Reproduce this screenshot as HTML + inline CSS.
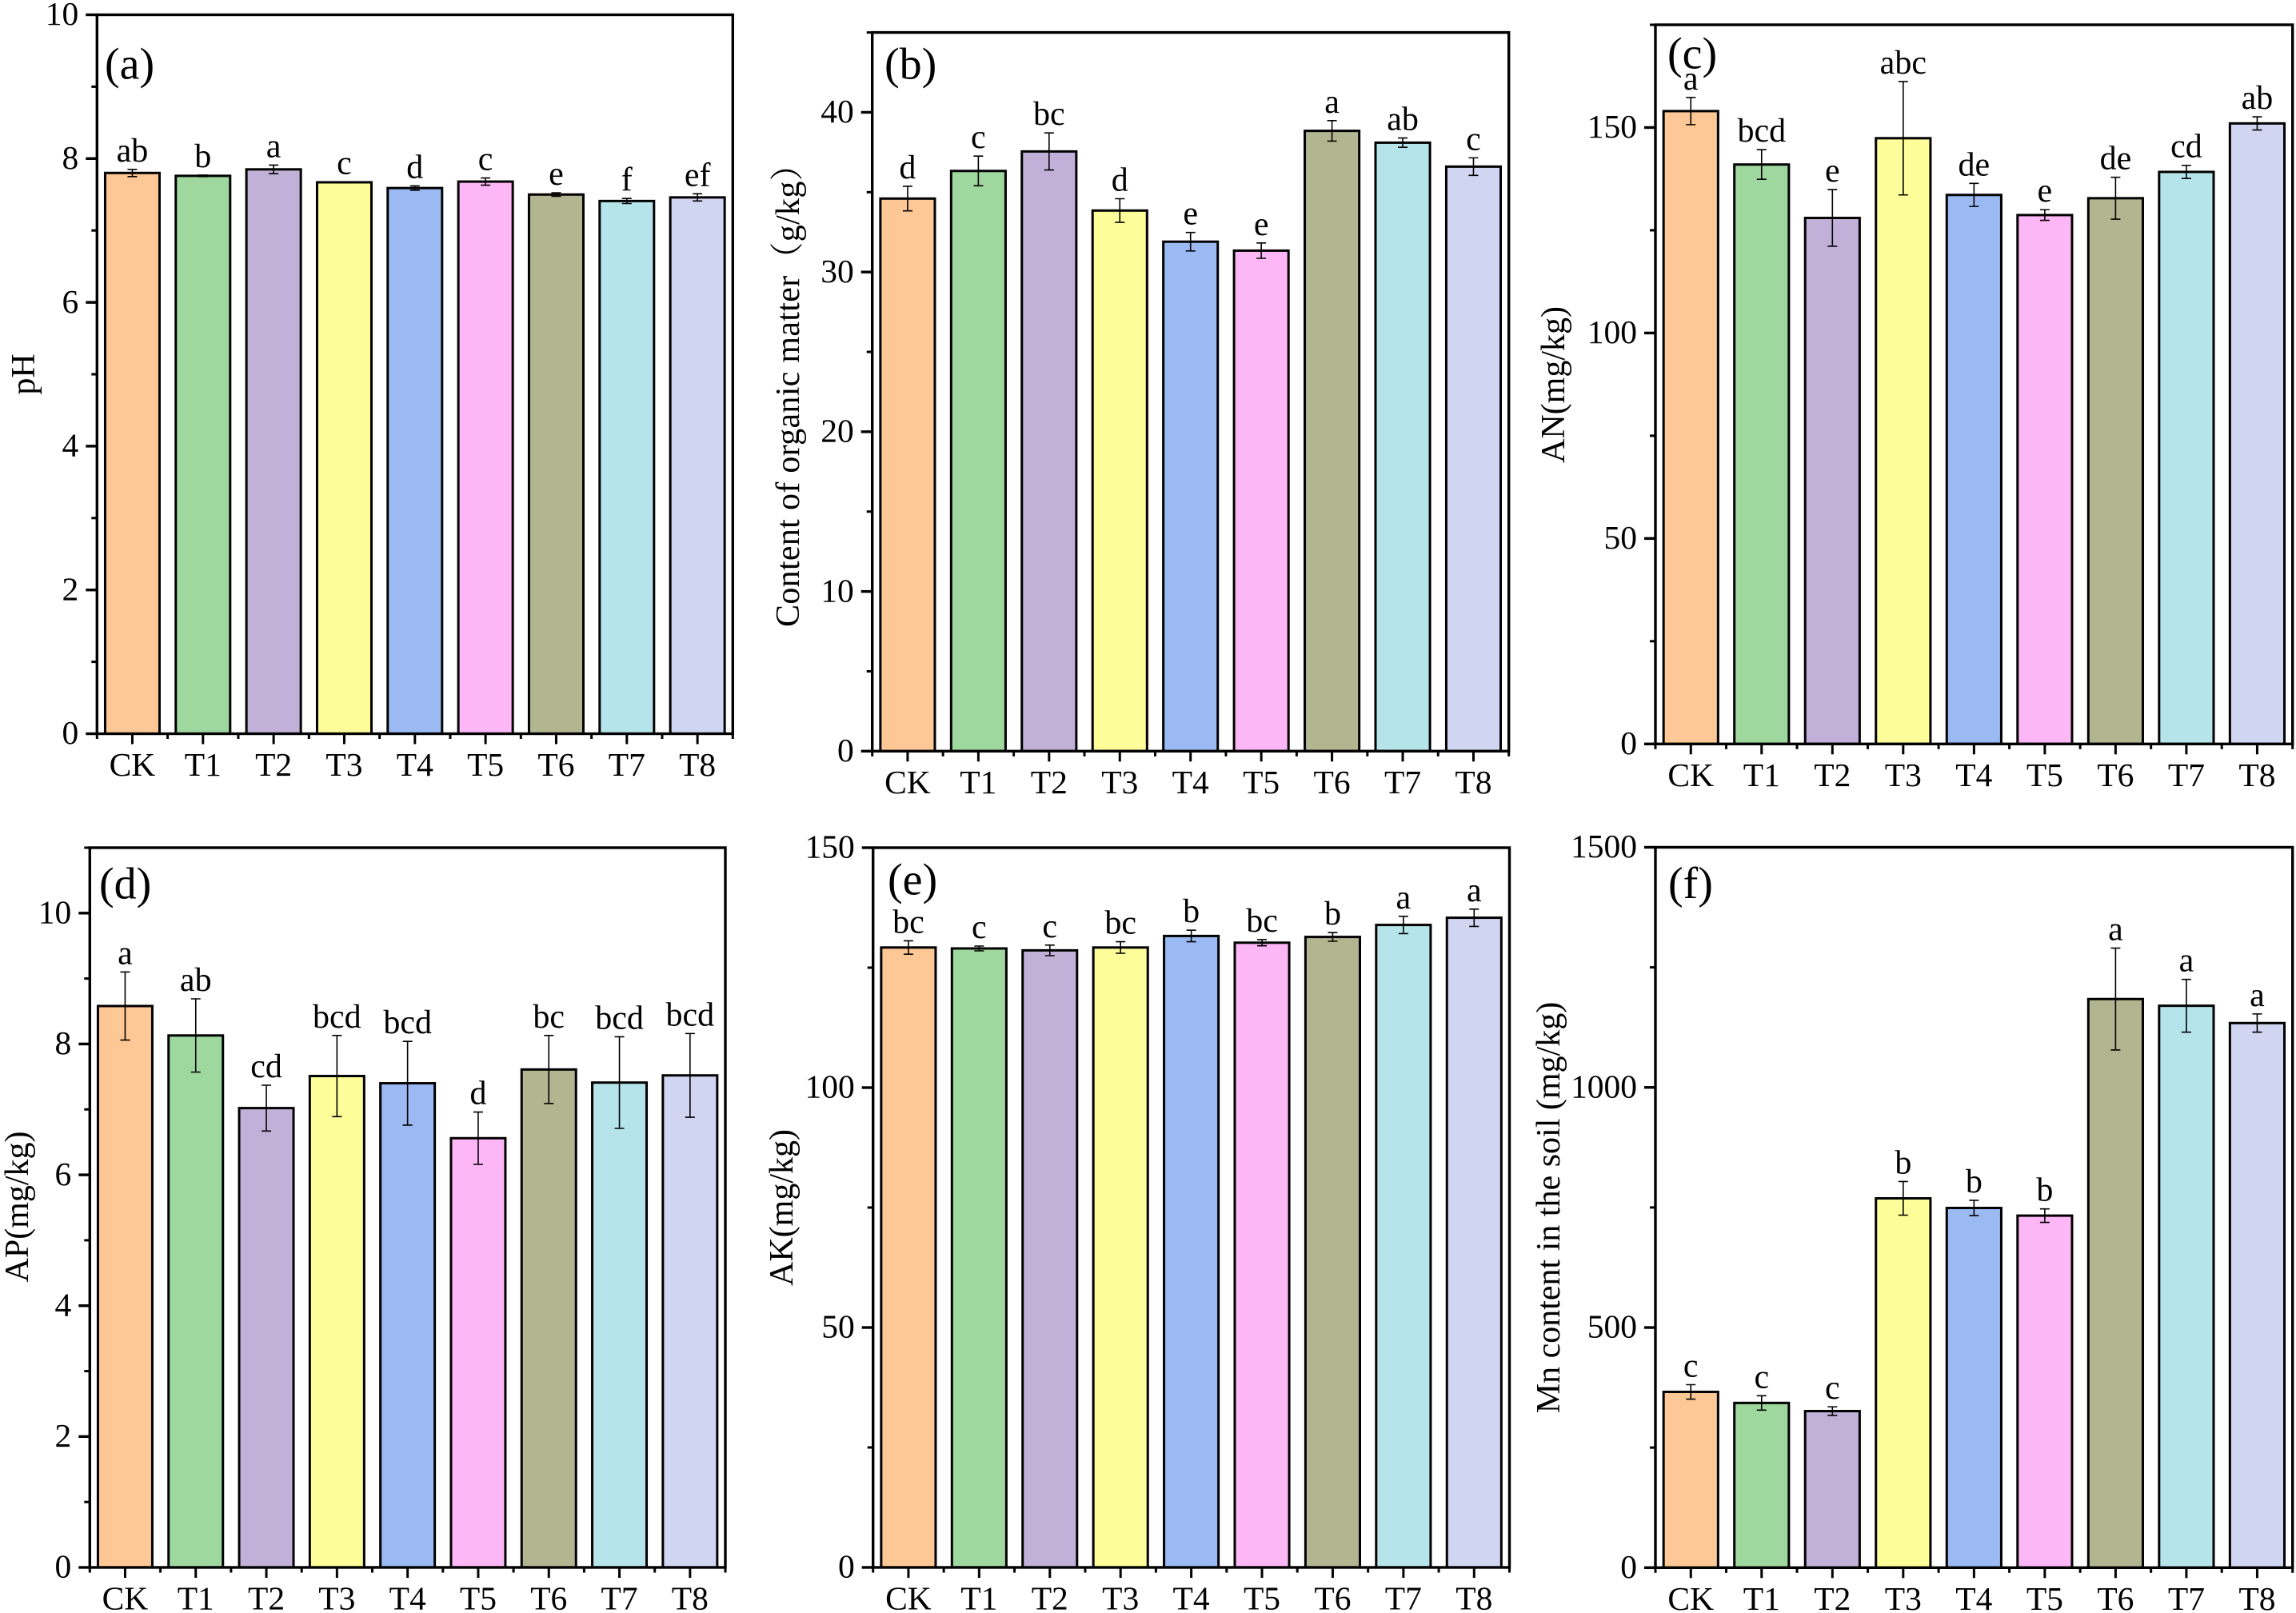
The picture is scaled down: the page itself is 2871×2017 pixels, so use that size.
<!DOCTYPE html>
<html lang="en">
<head>
<meta charset="utf-8">
<title>Soil properties by treatment</title>
<style>
  html, body { margin: 0; padding: 0; background: #fff; }
  svg { display: block; }
  text { font-family: "Liberation Serif", "Noto Serif CJK SC", serif; fill: #000; }
</style>
</head>
<body>
<svg id="figure" xmlns="http://www.w3.org/2000/svg" width="2871" height="2017" viewBox="0 0 2871 2017"></svg>
<script>
const categories = ['CK', 'T1', 'T2', 'T3', 'T4', 'T5', 'T6', 'T7', 'T8'];
const barColors = ['#FDC896', '#9FD89F', '#C1B1D8', '#FDFD99', '#9BBAF3', '#FDB6F6', '#B1B690', '#B5E5EA', '#D0D6F2'];

const phValues = [7.80, 7.76, 7.85, 7.67, 7.59, 7.68, 7.50, 7.41, 7.46];
const phErrors = [0.05, 0.01, 0.06, 0.005, 0.03, 0.05, 0.025, 0.035, 0.05];
const phLetters = ['ab', 'b', 'a', 'c', 'd', 'c', 'e', 'f', 'ef'];
const phTicks = [0, 2, 4, 6, 8, 10];

const organicValues = [34.6, 36.33, 37.55, 33.85, 31.9, 31.34, 38.84, 38.1, 36.6];
const organicErrors = [0.77, 0.93, 1.16, 0.74, 0.58, 0.48, 0.64, 0.29, 0.55];
const organicLetters = ['d', 'c', 'bc', 'd', 'e', 'e', 'a', 'ab', 'c'];
const organicTicks = [0, 10, 20, 30, 40];

const anValues = [154, 141, 128, 147.4, 133.6, 128.7, 132.8, 139.2, 151];
const anErrors = [3.3, 3.6, 6.9, 13.8, 2.8, 1.3, 5.1, 1.6, 1.6];
const anLetters = ['a', 'bcd', 'e', 'abc', 'de', 'e', 'de', 'cd', 'ab'];
const anTicks = [0, 50, 100, 150];

const apValues = [8.58, 8.13, 7.02, 7.51, 7.40, 6.56, 7.61, 7.41, 7.52];
const apErrors = [0.52, 0.56, 0.35, 0.62, 0.64, 0.40, 0.52, 0.70, 0.64];
const apLetters = ['a', 'ab', 'cd', 'bcd', 'bcd', 'd', 'bc', 'bcd', 'bcd'];
const apTicks = [0, 2, 4, 6, 8, 10];

const akValues = [129.2, 129, 128.6, 129.2, 131.6, 130.2, 131.4, 133.9, 135.4];
const akErrors = [1.4, 0.5, 1.1, 1.2, 1.2, 0.65, 0.9, 1.8, 1.8];
const akLetters = ['bc', 'c', 'c', 'bc', 'b', 'bc', 'b', 'a', 'a'];
const akTicks = [0, 50, 100, 150];

const mnValues = [366, 343, 326, 769, 749, 733, 1184, 1170, 1134];
const mnErrors = [15, 15, 9, 35, 16, 14, 106, 55, 19];
const mnLetters = ['c', 'c', 'c', 'b', 'b', 'b', 'a', 'a', 'a'];
const mnTicks = [0, 500, 1000, 1500];

const panels = [
  { key: 'a', tag: '(a)', title: 'pH', left: 121.3, right: 916.3, top: 18.5, bottom: 917.5, yMax: 10, minorStep: 1,
    values: phValues, errors: phErrors, letters: phLetters, ticks: phTicks, tagX: 131, tagY: 98.5, titleX: 43, titleY: 468, titleSpacing: 0 },
  { key: 'b', tag: '(b)', title: 'Content of organic matter（g/kg）', left: 1090.7, right: 1886.7, top: 40.6, bottom: 939.3, yMax: 45, minorStep: 5,
    values: organicValues, errors: organicErrors, letters: organicLetters, ticks: organicTicks, tagX: 1106, tagY: 98.5, titleX: 999, titleY: 484, titleSpacing: 0.3 },
  { key: 'c', tag: '(c)', title: 'AN(mg/kg)', left: 2070, right: 2866.7, top: 31, bottom: 930.3, yMax: 175, minorStep: 25,
    values: anValues, errors: anErrors, letters: anLetters, ticks: anTicks, tagX: 2085, tagY: 85.5, titleX: 1956, titleY: 481, titleSpacing: 0 },
  { key: 'd', tag: '(d)', title: 'AP(mg/kg)', left: 112.3, right: 907, top: 1060, bottom: 1960, yMax: 11, minorStep: 1,
    values: apValues, errors: apErrors, letters: apLetters, ticks: apTicks, tagX: 124, tagY: 1123.5, titleX: 35, titleY: 1509, titleSpacing: 0 },
  { key: 'e', tag: '(e)', title: 'AK(mg/kg)', left: 1091.7, right: 1887.5, top: 1060, bottom: 1960, yMax: 150, minorStep: 25,
    values: akValues, errors: akErrors, letters: akLetters, ticks: akTicks, tagX: 1110, tagY: 1118.5, titleX: 991, titleY: 1510, titleSpacing: 0 },
  { key: 'f', tag: '(f)', title: 'Mn content in the soil (mg/kg)', left: 2070, right: 2866.7, top: 1059.5, bottom: 1960.3, yMax: 1500, minorStep: 250,
    values: mnValues, errors: mnErrors, letters: mnLetters, ticks: mnTicks, tagX: 2086, tagY: 1123, titleX: 1950, titleY: 1510, titleSpacing: 0 }
];

const SVG_NS = 'http://www.w3.org/2000/svg';
const figure = document.getElementById('figure');

function make(parent, tag, attrs, content) {
  const el = document.createElementNS(SVG_NS, tag);
  for (const k in attrs) el.setAttribute(k, attrs[k]);
  if (content !== undefined) el.textContent = content;
  parent.appendChild(el);
  return el;
}

function drawPanel(p) {
  const group = make(figure, 'g', {});
  
  

  const slot = (p.right - p.left) / categories.length;
  const xAt = i => p.left + slot * (i + 0.5);
  const yAt = v => p.bottom - (v / p.yMax) * (p.bottom - p.top);
  const barW = slot * 0.77;

  categories.forEach((cat, i) => {
    const yTop = yAt(p.values[i]);
    const bar = make(group, 'rect', {
      x: xAt(i) - barW / 2, y: yTop, width: barW, height: p.bottom - yTop,
      fill: barColors[i], stroke: '#000', 'stroke-width': 3
    });
    
    

    const yHi = yAt(p.values[i] + p.errors[i]);
    const yLo = yAt(p.values[i] - p.errors[i]);
    const err = make(group, 'path', {
      d: 'M' + (xAt(i) - 6) + ' ' + yHi + 'H' + (xAt(i) + 6) +
         'M' + xAt(i) + ' ' + yHi + 'V' + yLo +
         'M' + (xAt(i) - 6) + ' ' + yLo + 'H' + (xAt(i) + 6),
      fill: 'none', stroke: '#000', 'stroke-width': 1.6
    });
    
    

    const letter = make(group, 'text', {
      x: xAt(i), y: yHi - 10, 'text-anchor': 'middle', 'font-size': 42
    }, p.letters[i]);
    
    

    const catLabel = make(group, 'text', {
      x: xAt(i), y: p.bottom + 52.5, 'text-anchor': 'middle', 'font-size': 41.5
    }, cat);
    
    

    const xTick = make(group, 'line', {
      x1: xAt(i), x2: xAt(i), y1: p.bottom, y2: p.bottom + 13, stroke: '#000', 'stroke-width': 3
    });
    
    
  });

  for (let i = 0; i <= categories.length; i++) {
    const xMinor = make(group, 'line', {
      x1: p.left + slot * i, x2: p.left + slot * i, y1: p.bottom, y2: p.bottom + 6.5, stroke: '#000', 'stroke-width': 3
    });
    
    
  }

  for (let v = 0; v <= p.yMax + 1e-9; v += p.minorStep) {
    const yMinor = make(group, 'line', {
      x1: p.left - 7, x2: p.left, y1: yAt(v), y2: yAt(v), stroke: '#000', 'stroke-width': 3
    });
    
    
  }

  p.ticks.forEach(v => {
    const yTick = make(group, 'line', {
      x1: p.left - 14, x2: p.left, y1: yAt(v), y2: yAt(v), stroke: '#000', 'stroke-width': 3.4
    });
    
    

    const yLabel = make(group, 'text', {
      x: p.left - 23, y: yAt(v) + 12.7, 'text-anchor': 'end', 'font-size': 41.5
    }, String(v));
    
    
  });

  const frame = make(group, 'rect', {
    x: p.left, y: p.top, width: p.right - p.left, height: p.bottom - p.top,
    fill: 'none', stroke: '#000', 'stroke-width': 3.4
  });
  
  

  const tag = make(group, 'text', { x: p.tagX, y: p.tagY, 'font-size': 56 }, p.tag);
  
  

  const title = make(group, 'text', {
    x: p.titleX, y: p.titleY, 'text-anchor': 'middle', 'font-size': 42,
    'letter-spacing': p.titleSpacing,
    transform: 'rotate(-90 ' + p.titleX + ' ' + p.titleY + ')'
  }, p.title);
  
  
}

panels.forEach(drawPanel);
</script>
</body>
</html>
